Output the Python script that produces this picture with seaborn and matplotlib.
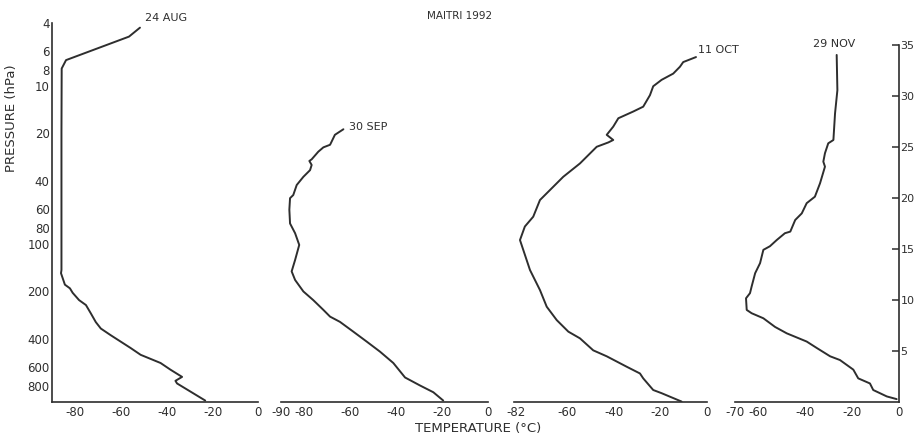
import matplotlib
matplotlib.use('Agg')
import matplotlib.pyplot as plt
import seaborn as sns

# ---------------------------------------------------------------
# data (temperature degC, pressure hPa)
# ---------------------------------------------------------------
aug_t = [-51.7, -56.5, -84.0, -85.9, -86.0, -86.0, -86.2, -84.5, -82.3, -81.1, -78.3,
         -75.3, -73.2, -71.0, -68.8, -64.5, -55.8, -51.4, -42.7, -38.4, -33.3, -36.2,
         -35.5, -23.2]
aug_p = [4.3, 4.9, 6.9, 7.8, 20, 147, 154, 182, 192, 205, 228,
         245, 276, 314, 345, 380, 458, 506, 570, 628, 698, 739,
         768, 985]

sep_t = [-63.0, -66.7, -68.1, -68.8, -71.7, -73.9, -76.8, -77.8, -76.8, -77.5, -80.4,
         -83.3, -84.8, -86.2, -86.5, -86.2, -84.0, -82.2, -84.0, -85.5, -84.0, -80.4,
         -76.1, -71.7, -68.8, -64.5, -58.7, -52.9, -47.1, -41.3, -36.2, -29.7, -23.9,
         -19.6]
sep_p = [18.9, 20.5, 22.6, 23.7, 24.6, 26.2, 29.3, 30.0, 31.8, 34.3, 37.8,
         42.6, 49.3, 51.6, 61, 74.6, 86, 102, 127, 150, 170, 201,
         228, 263, 290, 313, 361, 417, 483, 570, 704, 791, 873,
         985]

oct_t = [-4.6, -10.1, -11.5, -14.4, -19.4, -23.0, -24.4, -27.3, -31.6, -38.0, -40.2,
         -43.0, -40.2, -42.3, -47.3, -54.5, -61.7, -71.7, -74.6, -78.2, -80.3, -76.0,
         -71.7, -68.8, -64.5, -59.5, -54.5, -48.8, -43.0, -34.4, -28.7, -27.3, -23.0,
         -19.4, -10.8]
oct_p = [6.6, 7.1, 7.6, 8.4, 9.2, 10.1, 11.5, 13.6, 14.6, 16.1, 18.2,
         20.5, 22.1, 22.9, 24.4, 31.1, 37.8, 53, 67.6, 78, 95, 147,
         197, 251, 305, 361, 398, 474, 517, 602, 664, 713, 845,
         885, 1000]

nov_t = [-26.6, -26.3, -27.3, -28.0, -30.2, -31.6, -32.3, -31.6, -33.7, -35.9, -39.4,
         -41.5, -44.3, -46.4, -48.7, -52.2, -55.1, -57.9, -59.3, -61.4, -62.9, -63.6,
         -65.3, -65.0, -62.9, -57.9, -52.9, -47.9, -39.4, -35.1, -29.4, -25.2, -19.5,
         -17.4, -12.4, -11.0, -5.2, -1.0]
nov_p = [6.4, 10.7, 15.0, 22.1, 23.2, 26.8, 30.3, 32.6, 41.5, 50.5, 55.5,
         64.4, 70.9, 84, 86, 95, 104, 109.6, 133, 154, 187, 206,
         222, 263, 276, 297, 337, 370, 417, 458, 517, 546, 628,
         713, 768, 845, 928, 965]

labels = ['24 AUG', '30 SEP', '11 OCT', '29 NOV']
p_ticks = [4, 6, 8, 10, 20, 40, 60, 80, 100, 200, 400, 600, 800]
km_ticks = [5, 10, 15, 20, 25, 30, 35]

# ---------------------------------------------------------------
sns.set_style('white')
plt.rcParams['font.family'] = ['DejaVu Sans']
INK = '#2e2e2e'

W, H = 918, 440
fig = plt.figure(figsize=(W / 100, H / 100), dpi=100)

def box(x0, x1, y0=22.7, y1=401.7):
    return [x0 / W, 1 - y1 / H, (x1 - x0) / W, (y1 - y0) / H]

# pixel extents of each panel and its temperature limits / ticks
panels = [
    (box(52.3, 258.3), (-90, 0), [-80, -60, -40, -20, 0], ['-80', '-60', '-40', '-20', '0']),
    (box(281.3, 488.3), (-90, 0), [-90, -80, -60, -40, -20, 0], ['-90', '-80', '-60', '-40', '-20', '0']),
    (box(513.7, 706.7), (-83, 0), [-82, -78, -60, -40, -20, 0], ['-82', '', '-60', '-40', '-20', '0']),
    (box(735.0, 899.0), (-70, 0), [-70, -60, -40, -20, 0], ['-70', '-60', '-40', '-20', '0']),
]
series = [(aug_t, aug_p), (sep_t, sep_p), (oct_t, oct_p), (nov_t, nov_p)]

axes = []
for i, ((rect, xlim, xt, xtl), (t, p)) in enumerate(zip(panels, series)):
    ax = fig.add_axes(rect)
    ax.patch.set_alpha(0)
    sns.lineplot(x=t, y=p, sort=False, estimator=None, ax=ax,
                 color=INK, linewidth=1.4)
    ax.set_yscale('log')
    ax.set_ylim(1002, 4)
    ax.set_xlim(*xlim)
    ax.set_xticks(xt)
    ax.set_xticklabels(xtl)
    ax.tick_params(axis='x', direction='in', length=5, width=1.1, color=INK,
                   labelsize=8.5, labelcolor=INK, pad=3)
    for s in ['top', 'right', 'left']:
        ax.spines[s].set_visible(False)
    ax.spines['bottom'].set_color(INK)
    ax.spines['bottom'].set_linewidth(1.2)
    ax.minorticks_off()
    if i == 0:
        ax.spines['left'].set_visible(True)
        ax.spines['left'].set_color(INK)
        ax.spines['left'].set_linewidth(1.2)
        ax.set_yticks(p_ticks)
        ax.set_yticklabels([str(v) for v in p_ticks])
        ax.tick_params(axis='y', direction='in', length=6, width=1.1, color=INK,
                       labelsize=8.5, labelcolor=INK, pad=2)
    else:
        ax.set_yticks([])
    ax.set_xlabel('')
    ax.set_ylabel('')
    axes.append(ax)

# height axis (km) on the right of the last panel
axk = axes[3].twinx()
axk.set_ylim(0, 37.2)
axk.set_yticks(km_ticks)
axk.set_yticklabels([str(v) for v in km_ticks])
axk.tick_params(axis='y', direction='in', length=5, width=1.1, color=INK,
                labelsize=8, labelcolor=INK, pad=1)
for s in ['top', 'left', 'bottom']:
    axk.spines[s].set_visible(False)
axk.spines['right'].set_bounds(0, 35)
axk.spines['right'].set_color(INK)
axk.spines['right'].set_linewidth(1.2)
axk.minorticks_off()

# texts
def ftext(x, y, s, **kw):
    fig.text(x / W, 1 - y / H, s, color=INK, **kw)

ftext(460, 16, 'MAITRI 1992', fontsize=7.5, ha='center', va='center')
ftext(145, 18, labels[0], fontsize=8, ha='left', va='center')
ftext(349, 127, labels[1], fontsize=8, ha='left', va='center')
ftext(698, 50, labels[2], fontsize=8, ha='left', va='center')
ftext(813, 44, labels[3], fontsize=8, ha='left', va='center')
ftext(12, 118, 'PRESSURE (hPa)', fontsize=9.5, rotation=90, ha='center', va='center')
ftext(478, 428, 'TEMPERATURE (\u00b0C)', fontsize=9.5, ha='center', va='center')

fig.savefig('out.png', dpi=100)
